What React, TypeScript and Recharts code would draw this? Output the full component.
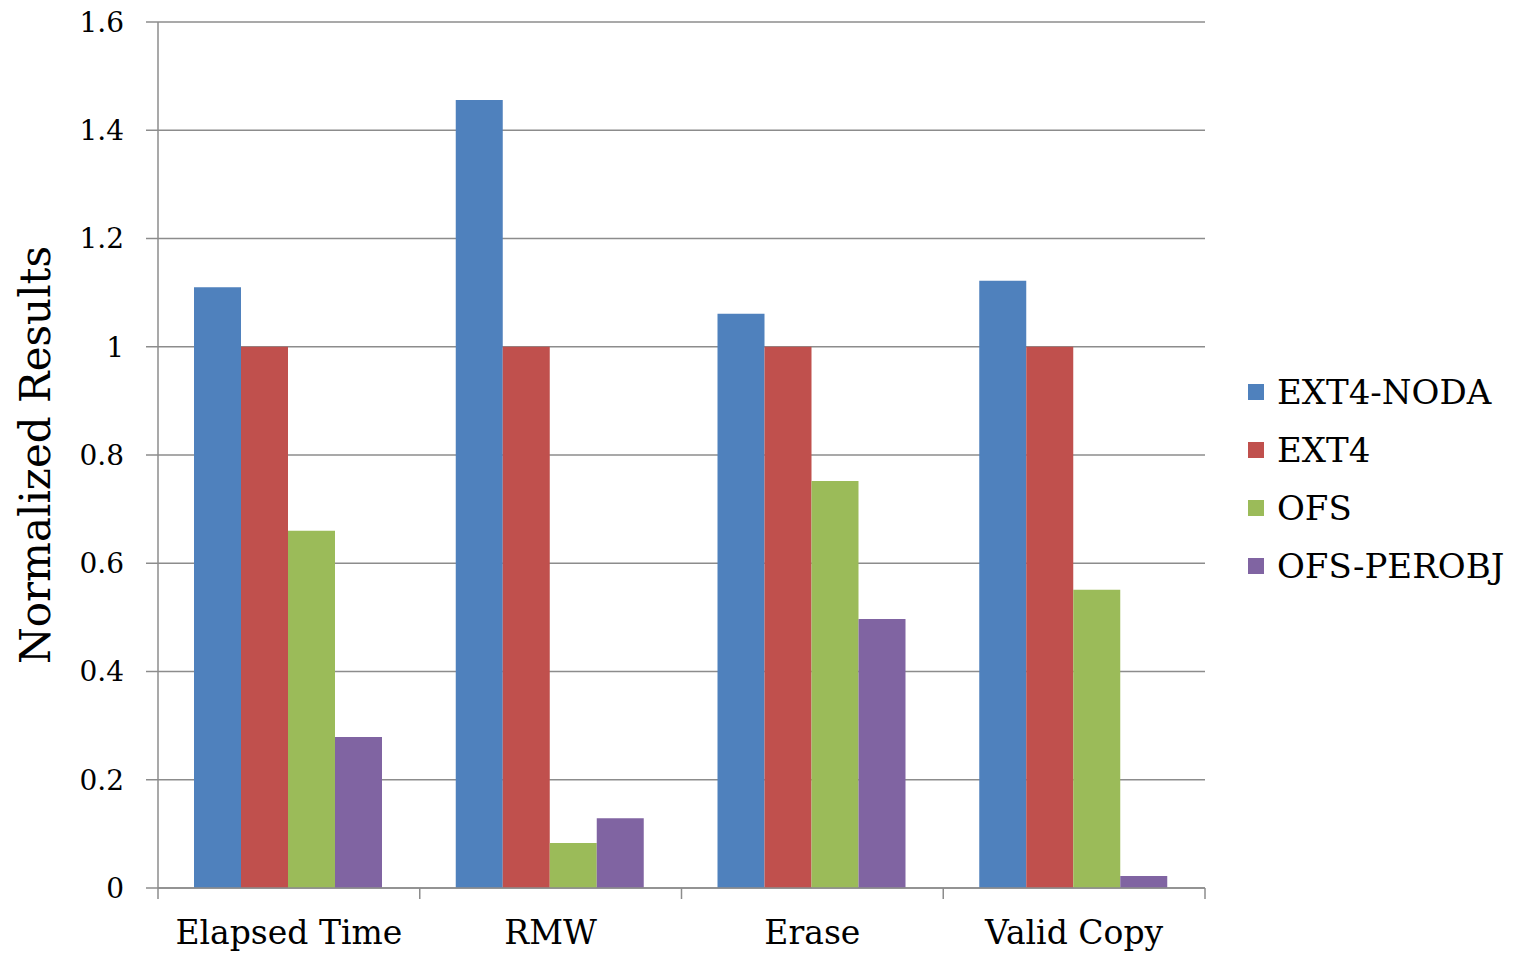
import React from 'react';
import { BarChart, Bar, XAxis, YAxis, CartesianGrid, Legend } from 'recharts';

// categories and series
const categories = ['Elapsed Time', 'RMW', 'Erase', 'Valid Copy'];
const ext4Noda = [1.11, 1.456, 1.061, 1.122];
const ext4 = [1.0, 1.0, 1.0, 1.0];
const ofs = [0.66, 0.083, 0.752, 0.551];
const ofsPerobj = [0.279, 0.129, 0.497, 0.022];
const yTicks = [0, 0.2, 0.4, 0.6, 0.8, 1, 1.2, 1.4, 1.6];

const series = [
  { key: 'EXT4-NODA', values: ext4Noda, color: '#4F81BD' },
  { key: 'EXT4', values: ext4, color: '#C0504D' },
  { key: 'OFS', values: ofs, color: '#9BBB59' },
  { key: 'OFS-PEROBJ', values: ofsPerobj, color: '#8064A2' },
];

const data = categories.map((name, i) => {
  const row: Record<string, any> = { name };
  series.forEach((s) => {
    row[s.key] = s.values[i];
  });
  return row;
});

const FONT = '"DejaVu Serif", serif';
const GRID = '#8c8c8c';
const X_TICK_MARGIN = 33;

const renderLegend = () => (
  <ul style={{ listStyle: 'none', margin: 0, padding: 0, fontFamily: FONT, fontSize: 34 }}>
    {series.map((s) => (
      <li key={s.key} style={{ lineHeight: '58px', height: 58, display: 'flex', alignItems: 'center', color: '#000' }}>
        <span style={{ display: 'inline-block', width: 16, height: 16, background: s.color, marginRight: 13 }} />
        {s.key}
      </li>
    ))}
  </ul>
);

// category label plus the tick marks on the category boundaries (excel style)
const CatTick = (props: any) => {
  const { x, y, payload, index, visibleTicksCount, width } = props;
  const half = payload && payload.offset ? payload.offset : width / visibleTicksCount / 2;
  const axisY = y - X_TICK_MARGIN;
  const last = index === visibleTicksCount - 1;
  return (
    <g>
      <line x1={x - half} x2={x - half} y1={axisY} y2={axisY + 11} stroke={GRID} strokeWidth={1.5} />
      {last && <line x1={x + half} x2={x + half} y1={axisY} y2={axisY + 11} stroke={GRID} strokeWidth={1.5} />}
      <text x={x} y={y} dy="0.71em" textAnchor="middle" fontFamily={FONT} fontSize={33} fill="#000">
        {payload.value}
      </text>
    </g>
  );
};

export default function App() {
  return (
    <div style={{ width: 1514, height: 956, background: '#fff' }}>
      <style>{'body { margin: 0; }'}</style>
      <BarChart
        width={1514}
        height={956}
        data={data}
        margin={{ top: 22, right: 43, bottom: 8, left: 0 }}
        barCategoryGap={36}
        barGap={0}
      >
        <CartesianGrid vertical={false} stroke={GRID} strokeWidth={1.5} />
        <XAxis
          dataKey="name"
          tickLine={false}
          tickSize={0}
          tickMargin={X_TICK_MARGIN}
          axisLine={{ stroke: GRID, strokeWidth: 1.5 }}
          tick={CatTick}
          height={60}
          interval={0}
        />
        <YAxis
          width={158}
          domain={[0, 1.6]}
          ticks={yTicks}
          interval={0}
          tickSize={12}
          tickMargin={22}
          axisLine={{ stroke: GRID, strokeWidth: 1.5 }}
          tickLine={{ stroke: GRID, strokeWidth: 1.5 }}
          tick={{ fontFamily: FONT, fontSize: 28, fill: '#000' }}
          label={{
            content: (props: any) => {
              const vb = props.viewBox || {};
              const cy = (vb.y ?? 22) + (vb.height ?? 866) / 2;
              const cx = 35;
              return (
                <text
                  x={cx}
                  y={cy}
                  transform={`rotate(-90 ${cx} ${cy})`}
                  textAnchor="middle"
                  dominantBaseline="central"
                  fontFamily={FONT}
                  fontSize={42}
                  fill="#000"
                >
                  Normalized Results
                </text>
              );
            },
          }}
        />
        <Legend
          layout="vertical"
          align="right"
          verticalAlign="middle"
          content={renderLegend}
          wrapperStyle={{ position: 'absolute', left: 1248, top: 363, width: 266 }}
        />
        {series.map((s) => (
          <Bar key={s.key} dataKey={s.key} fill={s.color} isAnimationActive={false} />
        ))}
      </BarChart>
    </div>
  );
}
